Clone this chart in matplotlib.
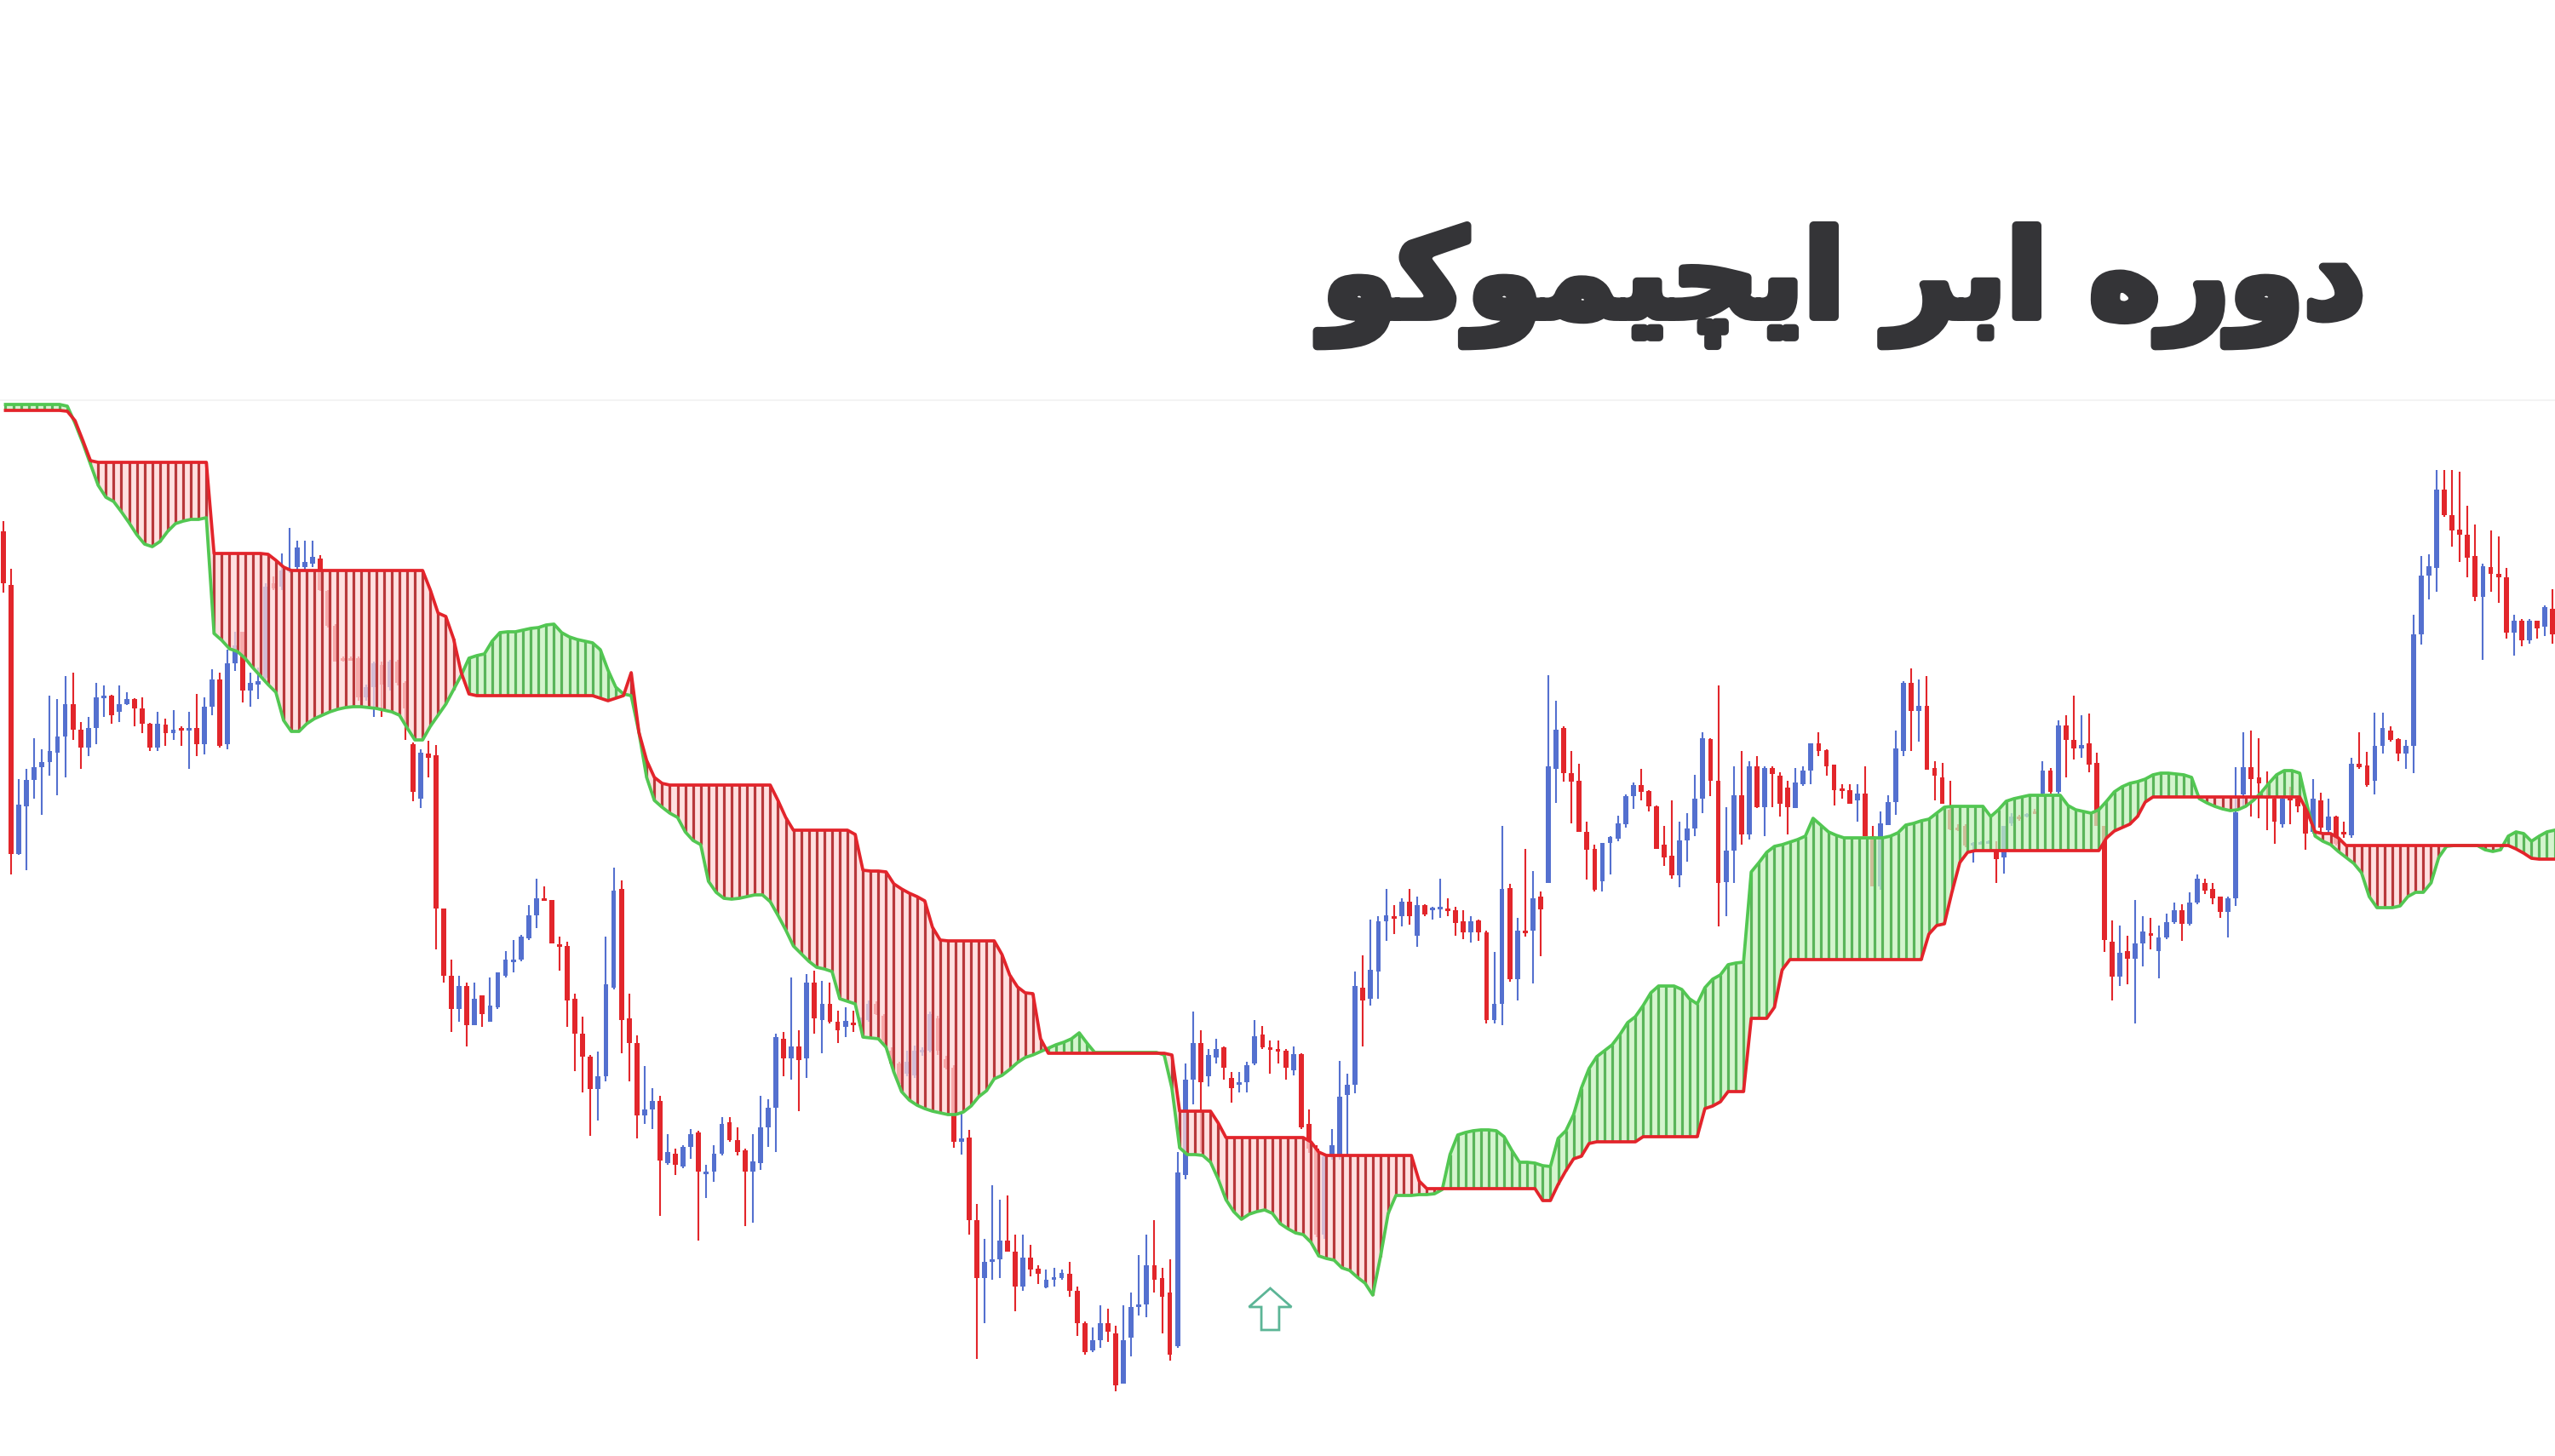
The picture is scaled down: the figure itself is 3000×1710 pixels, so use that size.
import numpy as np
import matplotlib.pyplot as plt
import matplotlib.patheffects as pe
from matplotlib.patches import FancyArrow

# Levels; the scale grows downwards (screen style),
# so the y axis is inverted when plotting.

# Senkou span B (red edge of the cloud), one value per bar
span_b = [
    482, 482, 482, 482, 482, 482, 482, 482, 483, 494,
    517, 541, 543, 543, 543, 543, 543, 543, 543, 543,
    543, 543, 543, 543, 543, 543, 543, 650, 650, 650,
    650, 650, 650, 650, 651, 658, 666, 670, 670, 670,
    670, 670, 670, 670, 670, 670, 670, 670, 670, 670,
    670, 670, 670, 670, 670, 693, 720, 724, 750, 790,
    815, 817, 817, 817, 817, 817, 817, 817, 817, 817,
    817, 817, 817, 817, 817, 817, 817, 820, 823, 820,
    817, 790, 860, 893, 913, 920, 922, 922, 922, 922,
    922, 922, 922, 922, 922, 922, 922, 922, 922, 922,
    940, 960, 975, 975, 975, 975, 975, 975, 975, 975,
    980, 1022, 1023, 1023, 1024, 1038, 1044, 1049, 1053, 1058,
    1089, 1104, 1105, 1105, 1105, 1105, 1105, 1105, 1105, 1121,
    1145, 1159, 1166, 1167, 1220, 1237, 1237, 1237, 1237, 1237,
    1237, 1237, 1237, 1237, 1237, 1237, 1237, 1237, 1237, 1237,
    1237, 1239, 1305, 1305, 1305, 1305, 1305, 1319, 1336, 1336,
    1336, 1336, 1336, 1336, 1336, 1336, 1336, 1336, 1336, 1341,
    1353, 1357, 1357, 1357, 1357, 1357, 1357, 1357, 1357, 1357,
    1357, 1357, 1357, 1387, 1396, 1396, 1396, 1396, 1396, 1396,
    1396, 1396, 1396, 1396, 1396, 1396, 1396, 1396, 1396, 1410,
    1410, 1391, 1375, 1361, 1358, 1343, 1341, 1341, 1341, 1341,
    1341, 1341, 1335, 1335, 1335, 1335, 1335, 1335, 1335, 1335,
    1302, 1299, 1294, 1282, 1282, 1282, 1196, 1196, 1196, 1183,
    1139, 1127, 1127, 1127, 1127, 1127, 1127, 1127, 1127, 1127,
    1127, 1127, 1127, 1127, 1127, 1127, 1127, 1127, 1127, 1097,
    1087, 1085, 1047, 1013, 1001, 999, 999, 999, 999, 999,
    999, 999, 999, 999, 999, 999, 999, 999, 999, 999,
    999, 999, 984, 976, 972, 968, 959, 942, 936, 936,
    936, 936, 936, 936, 936, 936, 936, 936, 936, 936,
    936, 936, 936, 936, 936, 936, 936, 936, 954, 977,
    979, 979, 984, 993, 993, 993, 993, 993, 993, 993,
    993, 993, 993, 993, 993, 993, 993, 993, 993, 993,
    993, 993, 993, 993, 993, 997, 1002, 1008, 1009, 1009,
    1009,
]

# Senkou span A (green edge of the cloud)
span_a = [
    475, 475, 475, 475, 475, 475, 475, 475, 477, 497,
    520, 545, 570, 584, 589, 601, 614, 628, 639, 642,
    636, 624, 615, 612, 610, 610, 608, 744, 752, 762,
    765, 773, 784, 794, 804, 813, 846, 859, 859, 850,
    844, 840, 836, 833, 831, 830, 830, 831, 832, 834,
    836, 840, 855, 869, 869, 853, 840, 827, 810, 793,
    773, 770, 768, 753, 743, 742, 742, 740, 738, 737,
    734, 733, 743, 748, 751, 753, 755, 763, 787, 807,
    815, 817, 860, 913, 940, 948, 955, 960, 977, 987,
    992, 1035, 1048, 1055, 1056, 1055, 1053, 1051, 1051, 1059,
    1075, 1092, 1111, 1120, 1129, 1136, 1138, 1141, 1173, 1176,
    1179, 1218, 1219, 1220, 1230, 1259, 1282, 1292, 1298, 1302,
    1305, 1307, 1309, 1309, 1306, 1299, 1288, 1281, 1267, 1263,
    1256, 1248, 1242, 1239, 1235, 1231, 1227, 1224, 1220, 1213,
    1225, 1236, 1236, 1236, 1236, 1236, 1236, 1236, 1236, 1236,
    1239, 1278, 1348, 1356, 1356, 1357, 1365, 1385, 1409, 1423,
    1432, 1426, 1423, 1421, 1425, 1437, 1443, 1448, 1450, 1459,
    1475, 1478, 1480, 1489, 1492, 1500, 1507, 1521, 1476, 1425,
    1404, 1404, 1404, 1403, 1403, 1402, 1397, 1356, 1333, 1330,
    1328, 1327, 1327, 1328, 1335, 1351, 1365, 1365, 1366, 1369,
    1370, 1337, 1328, 1309, 1278, 1255, 1241, 1234, 1227, 1215,
    1201, 1194, 1181, 1166, 1158, 1158, 1158, 1162, 1173, 1179,
    1160, 1150, 1145, 1133, 1131, 1130, 1024, 1013, 1001, 994,
    992, 989, 986, 982, 961, 969, 977, 981, 984, 984,
    984, 984, 984, 984, 982, 978, 969, 967, 964, 962,
    955, 948, 947, 947, 947, 947, 947, 959, 951, 941,
    938, 936, 934, 934, 934, 934, 934, 946, 951, 953,
    955, 951, 941, 930, 924, 920, 918, 915, 910, 908,
    908, 909, 910, 913, 938, 943, 947, 950, 952, 951,
    947, 940, 931, 920, 910, 905, 905, 908, 947, 982,
    988, 992, 1000, 1007, 1014, 1025, 1053, 1066, 1066, 1066,
    1064, 1053, 1048, 1048, 1037, 1007, 994, 993, 993, 993,
    993, 998, 1000, 998, 982, 977, 979, 988, 982, 977,
    975,
]

opens = [
    624, 687, 1003, 947, 916, 901, 895, 884, 865, 827,
    857, 878, 855, 819, 817, 836, 827, 821, 832, 850,
    878, 851, 861, 855, 857, 855, 874, 830, 798, 874,
    779, 742, 811, 804, 796, 685, 689, 670, 666, 666,
    662, 656, 694, 735, 773, 773, 773, 819, 807, 781,
    807, 777, 802, 874, 938, 885, 887, 1067, 1146, 1185,
    1158, 1204, 1169, 1200, 1183, 1146, 1130, 1127, 1102, 1075,
    1055, 1057, 1109, 1111, 1173, 1214, 1241, 1279, 1264, 1160,
    1044, 1196, 1225, 1310, 1303, 1293, 1366, 1355, 1370, 1347,
    1330, 1377, 1376, 1355, 1318, 1339, 1351, 1376, 1366, 1324,
    1301, 1220, 1243, 1229, 1243, 1154, 1198, 1179, 1200, 1206,
    1201, 1205, 1198, 1179, 1193, 1234, 1249, 1261, 1263, 1235,
    1234, 1196, 1244, 1254, 1341, 1336, 1433, 1501, 1482, 1479,
    1457, 1470, 1511, 1477, 1490, 1512, 1502, 1501, 1496, 1516,
    1554, 1586, 1574, 1554, 1566, 1625, 1571, 1534, 1532, 1486,
    1501, 1518, 1581, 1380, 1268, 1225, 1264, 1242, 1230, 1266,
    1273, 1271, 1249, 1215, 1230, 1232, 1234, 1257, 1238, 1320,
    1349, 1450, 1358, 1358, 1286, 1274, 1160, 1173, 1141, 1082,
    1076, 1076, 1059, 1099, 1063, 1068, 1067, 1067, 1069, 1082,
    1095, 1081, 1095, 1198, 1179, 1043, 1150, 1093, 1093, 1053,
    1037, 903, 855, 908, 917, 977, 997, 1035, 990, 985,
    968, 935, 922, 929, 947, 992, 1005, 1028, 987, 973,
    938, 868, 917, 1036, 999, 934, 980, 900, 948, 902,
    911, 925, 949, 921, 905, 873, 881, 898, 926, 928,
    940, 932, 982, 1041, 969, 942, 882, 802, 835, 829,
    902, 913, 951, 972, 970, 993, 990, 989, 999, 1007,
    967, 959, 958, 953, 932, 905, 930, 852, 869, 879,
    873, 896, 970, 1106, 1147, 1117, 1126, 1108, 1096, 1117,
    1101, 1083, 1069, 1085, 1060, 1037, 1044, 1053, 1071, 1055,
    933, 901, 913, 935, 938, 968, 937, 938, 945, 977,
    940, 975, 959, 977, 981, 897, 899, 917, 876, 858,
    868, 885, 876, 745, 676, 667, 575, 605, 622, 628,
    653, 701, 666, 674, 678, 743, 729, 752, 729, 736,
    715,
]

highs = [
    612, 668, 915, 903, 867, 880, 817, 821, 794, 790,
    848, 842, 802, 805, 816, 805, 813, 820, 819, 849,
    836, 844, 834, 853, 836, 815, 819, 786, 790, 763,
    742, 742, 790, 784, 685, 677, 650, 620, 635, 635,
    635, 652, 693, 733, 771, 771, 771, 804, 777, 777,
    775, 775, 800, 872, 880, 870, 875, 1067, 1127, 1146,
    1154, 1154, 1169, 1148, 1142, 1117, 1104, 1098, 1063, 1032,
    1041, 1057, 1100, 1106, 1167, 1194, 1239, 1235, 1100, 1019,
    1034, 1167, 1216, 1252, 1278, 1287, 1332, 1349, 1345, 1326,
    1328, 1368, 1345, 1312, 1312, 1324, 1349, 1332, 1287, 1291,
    1214, 1212, 1148, 1210, 1144, 1140, 1152, 1154, 1187, 1183,
    1187, 1195, 1175, 1176, 1191, 1230, 1247, 1234, 1228, 1230,
    1188, 1193, 1240, 1251, 1307, 1327, 1414, 1455, 1392, 1409,
    1404, 1450, 1450, 1462, 1486, 1491, 1489, 1491, 1482, 1511,
    1552, 1559, 1533, 1537, 1557, 1533, 1518, 1474, 1450, 1433,
    1489, 1479, 1353, 1249, 1188, 1210, 1232, 1220, 1229, 1259,
    1259, 1247, 1198, 1205, 1222, 1222, 1232, 1229, 1237, 1303,
    1345, 1355, 1326, 1246, 1261, 1141, 1122, 1080, 1076, 1044,
    1063, 1055, 1044, 1053, 1062, 1065, 1032, 1055, 1065, 1069,
    1076, 1080, 1093, 1118, 970, 1038, 1078, 997, 1023, 1047,
    793, 823, 853, 882, 897, 965, 992, 990, 982, 958,
    933, 919, 903, 928, 946, 970, 940, 965, 955, 910,
    860, 867, 805, 948, 900, 882, 894, 888, 900, 900,
    907, 917, 902, 900, 873, 860, 880, 898, 921, 921,
    921, 900, 970, 953, 934, 858, 800, 785, 798, 794,
    894, 896, 917, 968, 968, 989, 988, 987, 988, 970,
    955, 957, 955, 950, 894, 902, 846, 840, 817, 840,
    838, 884, 970, 1081, 1087, 1099, 1057, 1076, 1078, 1087,
    1073, 1060, 1062, 1048, 1027, 1032, 1037, 1053, 1053, 901,
    860, 858, 867, 906, 936, 936, 924, 936, 945, 915,
    931, 938, 958, 965, 890, 860, 883, 837, 837, 853,
    867, 869, 722, 653, 651, 552, 552, 552, 554, 594,
    616, 662, 623, 630, 667, 722, 727, 727, 729, 711,
    692,
]

lows = [
    696, 1027, 1004, 1022, 938, 957, 911, 934, 913, 869,
    903, 888, 874, 842, 850, 848, 828, 853, 861, 882,
    882, 876, 869, 876, 903, 888, 886, 840, 878, 880,
    788, 825, 830, 821, 798, 693, 693, 673, 670, 670,
    666, 694, 737, 777, 777, 776, 823, 823, 842, 842,
    811, 805, 869, 941, 949, 913, 1115, 1154, 1212, 1200,
    1229, 1204, 1206, 1200, 1185, 1148, 1142, 1129, 1104, 1090,
    1057, 1108, 1140, 1206, 1258, 1283, 1334, 1316, 1270, 1162,
    1237, 1270, 1337, 1320, 1326, 1428, 1368, 1380, 1372, 1361,
    1457, 1407, 1388, 1357, 1341, 1357, 1440, 1436, 1374, 1347,
    1353, 1264, 1268, 1305, 1266, 1214, 1237, 1202, 1225, 1218,
    1212, 1210, 1200, 1192, 1225, 1254, 1276, 1264, 1266, 1240,
    1236, 1239, 1256, 1348, 1356, 1450, 1596, 1554, 1503, 1501,
    1470, 1540, 1516, 1499, 1508, 1513, 1511, 1503, 1523, 1569,
    1591, 1588, 1583, 1576, 1634, 1625, 1593, 1545, 1547, 1518,
    1566, 1598, 1583, 1385, 1297, 1353, 1276, 1249, 1268, 1295,
    1283, 1283, 1251, 1232, 1261, 1249, 1268, 1263, 1326, 1354,
    1453, 1455, 1362, 1362, 1358, 1284, 1229, 1181, 1173, 1105,
    1097, 1088, 1086, 1112, 1076, 1080, 1078, 1076, 1099, 1103,
    1107, 1105, 1202, 1202, 1204, 1153, 1175, 1100, 1155, 1123,
    1037, 943, 918, 967, 977, 1033, 1047, 1047, 1027, 988,
    972, 950, 940, 953, 997, 1017, 1032, 1042, 1012, 982,
    955, 935, 1088, 1076, 1037, 992, 986, 949, 982, 948,
    959, 980, 949, 923, 921, 888, 911, 946, 938, 944,
    965, 982, 1041, 1045, 969, 957, 888, 882, 871, 904,
    940, 944, 975, 976, 995, 1013, 991, 990, 1037, 1026,
    970, 964, 960, 956, 934, 932, 932, 913, 892, 890,
    907, 970, 1118, 1175, 1158, 1156, 1202, 1135, 1115, 1149,
    1103, 1085, 1105, 1087, 1062, 1050, 1062, 1078, 1101, 1064,
    947, 959, 961, 975, 991, 972, 968, 954, 998, 979,
    979, 979, 993, 984, 984, 903, 924, 933, 885, 871,
    894, 903, 908, 757, 704, 695, 607, 642, 660, 678,
    706, 775, 695, 708, 750, 770, 759, 756, 750, 747,
    756,
]

closes = [
    685, 1003, 945, 916, 901, 895, 882, 865, 827, 857,
    878, 855, 819, 817, 840, 827, 821, 832, 850, 878,
    850, 861, 857, 857, 855, 874, 830, 798, 876, 779,
    758, 811, 802, 800, 689, 691, 670, 668, 643, 660,
    654, 693, 735, 777, 775, 775, 819, 807, 779, 804,
    777, 802, 832, 930, 884, 890, 1067, 1146, 1185, 1158,
    1204, 1173, 1191, 1181, 1142, 1127, 1127, 1100, 1075, 1055,
    1057, 1108, 1112, 1175, 1214, 1241, 1279, 1264, 1156, 1046,
    1198, 1225, 1310, 1303, 1293, 1363, 1353, 1368, 1347, 1332,
    1376, 1376, 1355, 1320, 1339, 1353, 1376, 1364, 1324, 1301,
    1218, 1243, 1229, 1245, 1154, 1196, 1179, 1200, 1210, 1199,
    1203, 1199, 1179, 1191, 1222, 1249, 1273, 1247, 1234, 1233,
    1191, 1234, 1254, 1341, 1337, 1433, 1501, 1482, 1479, 1457,
    1470, 1511, 1477, 1491, 1496, 1503, 1500, 1495, 1516, 1554,
    1588, 1574, 1554, 1564, 1627, 1574, 1535, 1532, 1486, 1503,
    1523, 1591, 1377, 1268, 1225, 1271, 1239, 1232, 1254, 1278,
    1271, 1251, 1217, 1230, 1232, 1234, 1254, 1238, 1324, 1349,
    1450, 1358, 1345, 1288, 1274, 1158, 1175, 1139, 1082, 1075,
    1078, 1059, 1076, 1063, 1074, 1066, 1065, 1069, 1084, 1095,
    1082, 1095, 1198, 1179, 1044, 1150, 1093, 1095, 1055, 1068,
    900, 857, 908, 918, 977, 998, 1045, 990, 983, 967,
    935, 922, 930, 947, 997, 1007, 1028, 987, 973, 938,
    867, 917, 1037, 999, 934, 980, 900, 948, 902, 909,
    944, 948, 919, 905, 873, 882, 900, 928, 928, 944,
    932, 982, 1041, 967, 942, 879, 802, 835, 829, 904,
    911, 944, 974, 973, 993, 990, 989, 988, 1009, 970,
    959, 962, 956, 955, 905, 930, 852, 869, 879, 875,
    898, 970, 1104, 1147, 1119, 1126, 1108, 1094, 1099, 1101,
    1083, 1069, 1085, 1060, 1032, 1046, 1055, 1071, 1055, 954,
    901, 915, 920, 937, 965, 938, 939, 947, 979, 938,
    972, 959, 991, 979, 897, 901, 922, 876, 855, 869,
    885, 876, 745, 676, 665, 575, 605, 623, 628, 655,
    701, 665, 674, 678, 743, 729, 752, 729, 738, 713,
    745,
]

# "دوره ابر ایچیموکو" in shaped glyphs, laid out left to right as displayed
title_text = ("\uFEEE\uFB90\uFEEE\uFEE4\uFBFF\uFB7D\uFBFE\uFE8D"
              " \uFEAE\uFE91\uFE8D"
              " \uFEE9\uFEAD\uFEED\uFEA9")

# marker arrow under the cloud breakout (bar index, base level, tip level)
arrow_bar, arrow_base, arrow_tip = 164.0, 1562, 1513

BULL = '#5470cf'
BEAR = '#e2262b'
RED_LINE = '#e3242b'
GREEN_LINE = '#52c752'
RED_HATCH = '#b8383b'
RED_FILL = '#ffd6d6'
GREEN_HATCH = '#5ab55a'
GREEN_FILL = '#c6f2be'

BAR_PX = 9.07      # horizontal distance between bars in the image
FIRST_PX = 4.0     # position of the first bar
W, H = 3000, 1710
HATCH_OFF = 0.27


def draw_candles(ax, x, o, h, l, c):
    up = c < o
    colors = np.where(up, BULL, BEAR)
    ax.vlines(x, h, l, colors=colors, lw=1.5, zorder=2)
    body_top = np.minimum(o, c)
    body_h = np.maximum(np.abs(c - o), 2.5)
    ax.bar(x, body_h, bottom=body_top, width=0.64, color=colors,
           linewidth=0, zorder=2.1)


def draw_cloud(ax, x, a, b):
    xs = x + HATCH_OFF
    green = a < b
    red = a > b
    ax.fill_between(xs, a, b, where=green, interpolate=True,
                    color=GREEN_FILL, alpha=0.75, lw=0, zorder=3)
    ax.fill_between(xs, a, b, where=red, interpolate=True,
                    color=RED_FILL, alpha=0.75, lw=0, zorder=3)
    ax.vlines(xs[green], a[green], b[green], colors=GREEN_HATCH,
              lw=2.3, zorder=3.2)
    ax.vlines(xs[red], a[red], b[red], colors=RED_HATCH,
              lw=2.3, zorder=3.2)
    ax.plot(xs, a, color=GREEN_LINE, lw=2.7, zorder=4,
            solid_joinstyle='round')
    ax.plot(xs, b, color=RED_LINE, lw=2.7, zorder=4.5,
            solid_joinstyle='round')


def main():
    a = np.array(span_a, dtype=float)
    b = np.array(span_b, dtype=float)
    o = np.array(opens, dtype=float)
    h = np.array(highs, dtype=float)
    l = np.array(lows, dtype=float)
    c = np.array(closes, dtype=float)
    x = np.arange(len(o))

    fig = plt.figure(figsize=(W / 100, H / 100), dpi=100)
    fig.patch.set_facecolor('white')
    ax = fig.add_axes([0, 0, 1, 1])
    ax.set_xlim(-FIRST_PX / BAR_PX, (W - FIRST_PX) / BAR_PX)
    ax.set_ylim(H, 0)
    ax.axis('off')

    # faint divider between the heading band and the chart
    ax.axhline(470, color='#f1f1f1', lw=1.2, zorder=0)

    draw_candles(ax, x, o, h, l, c)
    draw_cloud(ax, x, a, b)

    arrow = FancyArrow(arrow_bar, arrow_base, 0, arrow_tip - arrow_base,
                       width=2.3, head_width=5.5, head_length=22,
                       length_includes_head=True, facecolor='white',
                       edgecolor='#5cb596', lw=2.0, zorder=6)
    ax.add_patch(arrow)

    title = fig.text(2778 / W, 1 - 372 / H, title_text, ha='right',
                     va='baseline', fontsize=100, fontweight='bold',
                     color='#343437', family=['DejaVu Sans'])
    fig.canvas.draw()
    width = title.get_window_extent().width
    size = 100 * 1225 / width
    title.set_fontsize(size)
    # heavier strokes, closer to the display face of the original heading
    title.set_path_effects([pe.withStroke(linewidth=size * 0.07,
                                          foreground='#343437')])

    fig.savefig('out.png', dpi=100, facecolor='white')


if __name__ == "__main__":
    main()
